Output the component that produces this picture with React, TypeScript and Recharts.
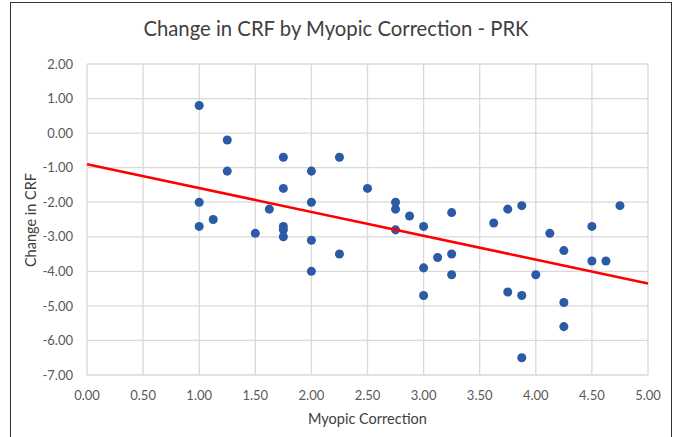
import type { ReactElement } from "react";
import {
  ScatterChart,
  Scatter,
  XAxis,
  YAxis,
  ZAxis,
  CartesianGrid,
  Label,
} from "recharts";

// Myopic correction (D) for each eye and its change in CRF.
const correction = [
  1.0, 1.0, 1.0, 1.125, 1.25, 1.25, 1.5, 1.625,
  1.75, 1.75, 1.75, 1.75, 1.75,
  2.0, 2.0, 2.0, 2.0, 2.25, 2.25, 2.5,
  2.75, 2.75, 2.75, 2.875, 3.0, 3.0, 3.0, 3.125,
  3.25, 3.25, 3.25, 3.625, 3.75, 3.75,
  3.875, 3.875, 3.875, 4.0, 4.125,
  4.25, 4.25, 4.25, 4.5, 4.5, 4.625, 4.75,
];
const crfChange = [
  0.8, -2.0, -2.7, -2.5, -0.2, -1.1, -2.9, -2.2,
  -0.7, -1.6, -2.7, -2.8, -3.0,
  -1.1, -2.0, -3.1, -4.0, -0.7, -3.5, -1.6,
  -2.0, -2.2, -2.8, -2.4, -2.7, -3.9, -4.7, -3.6,
  -2.3, -3.5, -4.1, -2.6, -2.2, -4.6,
  -2.1, -4.7, -6.5, -4.1, -2.9,
  -3.4, -4.9, -5.6, -2.7, -3.7, -3.7, -2.1,
];

// Linear trend line end points.
const trendX = [0, 5];
const trendY = [-0.9, -4.35];

const xTicks = [0, 0.5, 1, 1.5, 2, 2.5, 3, 3.5, 4, 4.5, 5];
const yTicks = [-7, -6, -5, -4, -3, -2, -1, 0, 1, 2];

const points = correction.map((x, i) => ({ x, y: crfChange[i] }));
const trend = trendX.map((x, i) => ({ x, y: trendY[i] }));

const FONT = "Lato, 'Open Sans', sans-serif";

export default function App(): ReactElement {
  return (
    <div
      style={{
        position: "absolute",
        left: 0,
        top: 0,
        width: 678,
        height: 437,
        background: "#fff",
        overflow: "hidden",
        fontFamily: FONT,
      }}
    >
      <div
        style={{
          position: "absolute",
          left: 10,
          top: 2,
          width: 662,
          height: 460,
          border: "1px solid #333",
          boxSizing: "border-box",
        }}
      />
      <div
        style={{
          position: "absolute",
          left: -3,
          top: 16,
          width: 678,
          textAlign: "center",
          fontSize: 20.3,
          color: "#404040",
        }}
      >
        Change in CRF by Myopic Correction - PRK
      </div>
      <div
        style={{
          position: "absolute",
          left: 30,
          top: 220,
          transform: "translate(-50%, -50%) rotate(-90deg)",
          whiteSpace: "nowrap",
          fontSize: 14.5,
          color: "#404040",
        }}
      >
        Change in CRF
      </div>
      <ScatterChart
        width={678}
        height={437}
        margin={{ top: 64, right: 30, bottom: 0, left: 0 }}
        style={{ position: "absolute", left: 0, top: 0 }}
      >
        <CartesianGrid stroke="#d9d9d9" strokeWidth={1.3} />
        <XAxis
          type="number"
          dataKey="x"
          domain={[0, 5]}
          ticks={xTicks}
          interval={0}
          height={62}
          axisLine={false}
          tickLine={false}
          tickSize={6}
          tickMargin={10}
          tickFormatter={(v: number) => v.toFixed(2)}
          tick={{ fontSize: 13, fill: "#595959", fontFamily: FONT }}
        >
          <Label
            value="Myopic Correction"
            position="insideBottom"
            offset={13}
            style={{ fontSize: 14.5, fill: "#404040", fontFamily: FONT }}
          />
        </XAxis>
        <YAxis
          type="number"
          dataKey="y"
          domain={[-7, 2]}
          ticks={yTicks}
          interval={0}
          width={87}
          axisLine={false}
          tickLine={false}
          tickSize={6}
          tickMargin={8}
          tickFormatter={(v: number) => v.toFixed(2)}
          tick={{ fontSize: 13, fill: "#595959", fontFamily: FONT }}
        />
        <ZAxis range={[76, 76]} />
        <Scatter
          data={points}
          fill="#2b5ba6"
          isAnimationActive={false}
        />
        <Scatter
          data={trend}
          line={{ stroke: "#ff0000", strokeWidth: 2.5 }}
          shape={() => <g />}
          isAnimationActive={false}
        />
      </ScatterChart>
    </div>
  );
}
